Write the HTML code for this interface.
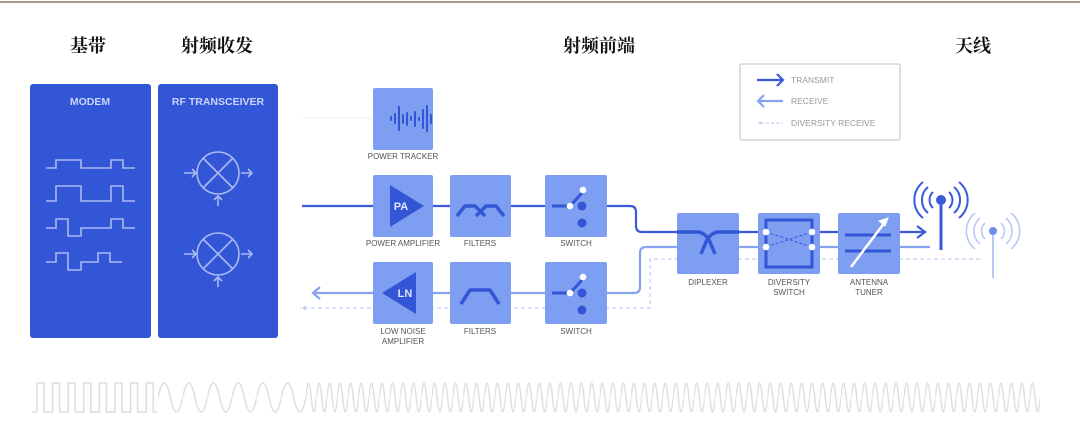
<!DOCTYPE html>
<html><head><meta charset="utf-8"><style>
html,body{margin:0;padding:0;background:#fff;}
body{width:1080px;height:427px;overflow:hidden;position:relative;}
svg{position:absolute;left:0;top:0;}
.t{font-family:"Liberation Serif","Noto Serif CJK SC",serif;font-weight:bold;font-size:18px;fill:#111;}
.l{font-family:"Liberation Sans",sans-serif;font-size:8px;fill:#555;text-anchor:middle;}
.w{font-family:"Liberation Sans",sans-serif;font-size:10.5px;fill:#c9d4ff;text-anchor:middle;font-weight:bold;}
.g{font-family:"Liberation Sans",sans-serif;font-size:8.5px;fill:#999;}
</style></head><body>
<svg width="1080" height="427" viewBox="0 0 1080 427">
<defs>
<pattern id="sq" x="33" y="380" width="15.6" height="36" patternUnits="userSpaceOnUse">
<path d="M0,32 h4 v-29 h7 v29 h4.6" fill="none" stroke="#ddd" stroke-width="1.5"/></pattern>
<pattern id="sl" x="158" y="380" width="24.67" height="36" patternUnits="userSpaceOnUse">
<path d="M0,17.5 q6.17,-29 12.33,0 t12.33,0" fill="none" stroke="#ddd" stroke-width="1.5"/></pattern>
<pattern id="fs" x="306" y="380" width="10.49" height="36" patternUnits="userSpaceOnUse">
<path d="M0,17.5 q2.62,-29 5.245,0 t5.245,0" fill="none" stroke="#ddd" stroke-width="1.4"/></pattern>
</defs>
<line x1="0" y1="2" x2="1080" y2="2" stroke="#a89a86" stroke-width="2"/>
<text class="t" x="70" y="52">基带</text>
<text class="t" x="181" y="52">射频收发</text>
<text class="t" x="563" y="52">射频前端</text>
<text class="t" x="955" y="52">天线</text>

<!-- modem & transceiver -->
<rect x="30" y="84" width="121" height="254" rx="3" fill="#3356d6"/>
<rect x="158" y="84" width="120" height="254" rx="3" fill="#3356d6"/>
<text class="w" x="90" y="105">MODEM</text>
<text class="w" x="218" y="105">RF TRANSCEIVER</text>
<g fill="none" stroke="#aab9f2" stroke-width="1.6">
<path d="M46,168 h10 v-8 h25 v8 h30 v-8 h12 v8 h12"/>
<path d="M46,201 h10 v-15 h25 v15 h30 v-15 h12 v15 h12"/>
<path d="M46,228 h10 v-9 h12 v17 h13 v-8 h30 v-9 h12 v9 h12"/>
<path d="M46,262 h10 v-9 h12 v17 h13 v-8 h17 v-9 h12 v9 h12"/>
<circle cx="218" cy="173" r="21"/><path d="M203,158 l30,30 M233,158 l-30,30"/>
<path d="M184,173 h12 M192,169 l4,4 -4,4 M241,173 h11 M248,169 l4,4 -4,4 M218,206 v-9 M214,200 l4,-4 4,4"/>
<circle cx="218" cy="254" r="21"/><path d="M203,239 l30,30 M233,239 l-30,30"/>
<path d="M184,254 h12 M192,250 l4,4 -4,4 M241,254 h11 M248,250 l4,4 -4,4 M218,287 v-9 M214,281 l4,-4 4,4"/>
</g>

<!-- connectors -->
<line x1="302" y1="118" x2="372" y2="118" stroke="#eee" stroke-width="1"/>
<g fill="none" stroke-width="2.2">
<path d="M302,206 H630 q6,0 6,6 v14 q0,6 6,6 H926" stroke="#3a5ad8"/>
<path d="M917,226 l8,6 -8,6" stroke="#3a5ad8"/>
<path d="M930,247 H646 q-6,0 -6,6 v34 q0,6 -6,6 H314" stroke="#87a2ef"/>
<path d="M320,287 l-7,6 7,6" stroke="#87a2ef"/>
</g>
<g fill="none" stroke="#c3d0f5" stroke-width="1.3" stroke-dasharray="4,3">
<path d="M980,259 H650 v49 H300"/>
</g>
<path d="M306,305 l-4,3 4,3" fill="#c3d0f5"/>

<!-- boxes -->
<g fill="#7e9ef1">
<rect x="373" y="88" width="60" height="62" rx="2"/>
<rect x="373" y="175" width="60" height="62" rx="2"/>
<rect x="450" y="175" width="61" height="62" rx="2"/>
<rect x="545" y="175" width="62" height="62" rx="2"/>
<rect x="373" y="262" width="60" height="62" rx="2"/>
<rect x="450" y="262" width="61" height="62" rx="2"/>
<rect x="545" y="262" width="62" height="62" rx="2"/>
<rect x="677" y="213" width="62" height="61" rx="2"/>
<rect x="758" y="213" width="62" height="61" rx="2"/>
<rect x="838" y="213" width="62" height="61" rx="2"/>
</g>
<!-- power tracker icon -->
<g stroke="#3356d6" stroke-width="2" stroke-linecap="round">
<path d="M391,117v3 M395,114v9 M399,107v23 M403,115v8 M407,113v12 M411,117v3 M415,112v14 M419,118v2 M423,110v18 M427,106v25 M431,115v8"/>
</g>
<!-- PA -->
<path d="M390,185 L424,206 L390,227 Z" fill="#3356d6"/>
<text x="401" y="210" font-family="Liberation Sans" font-weight="bold" font-size="11" fill="#dfe6ff" text-anchor="middle">PA</text>
<path d="M416,272 L382,293 L416,314 Z" fill="#3356d6"/>
<text x="405" y="297" font-family="Liberation Sans" font-weight="bold" font-size="11" fill="#dfe6ff" text-anchor="middle">LN</text>
<!-- filters -->
<g fill="none" stroke="#3356d6" stroke-width="3.5" stroke-linejoin="round">
<path d="M457,216 l8,-10 h10 l10,10 M476,216 l10,-10 h10 l8,10"/>
<path d="M461,304 l9,-14 h20 l9,14"/>
</g>
<!-- switches -->
<g stroke="#3356d6" stroke-width="3" fill="#3356d6">
<path d="M552,206 h15 M582,193 l-11,12"/><circle cx="582" cy="206" r="3"/><circle cx="582" cy="223" r="3"/>
<path d="M552,293 h15 M582,280 l-11,12"/><circle cx="582" cy="293" r="3"/><circle cx="582" cy="310" r="3"/>
</g>
<g fill="#fff"><circle cx="570" cy="206" r="3.3"/><circle cx="583" cy="190" r="3.3"/><circle cx="570" cy="293" r="3.3"/><circle cx="583" cy="277" r="3.3"/></g>
<!-- diplexer -->
<g fill="none" stroke="#3356d6" stroke-width="3.5">
<path d="M677,232 h20 q8,0 13,10 l5,12 M739,232 h-20 q-8,0 -13,10 l-5,12"/>
</g>
<!-- diversity switch -->
<rect x="766" y="220" width="46" height="47" fill="none" stroke="#3356d6" stroke-width="3"/>
<path d="M766,232 L812,247 M766,247 L812,232" stroke="#3356d6" stroke-width="1" stroke-dasharray="3,2"/>
<g fill="#fff"><circle cx="766" cy="232" r="3.3"/><circle cx="812" cy="232" r="3.3"/><circle cx="766" cy="247" r="3.3"/><circle cx="812" cy="247" r="3.3"/></g>
<!-- tuner -->
<path d="M845,235 h46 M845,251 h46" stroke="#3356d6" stroke-width="3"/>
<path d="M851,267 L885,222" stroke="#fff" stroke-width="2.5"/><path d="M888,218 l-9,3 6,5 z" fill="#fff" stroke="#fff"/>
<!-- labels -->
<text class="l" x="403" y="159">POWER TRACKER</text>
<text class="l" x="403" y="246">POWER AMPLIFIER</text>
<text class="l" x="480" y="246">FILTERS</text>
<text class="l" x="576" y="246">SWITCH</text>
<text class="l" x="403" y="334">LOW NOISE</text>
<text class="l" x="403" y="344">AMPLIFIER</text>
<text class="l" x="480" y="334">FILTERS</text>
<text class="l" x="576" y="334">SWITCH</text>
<text class="l" x="708" y="285">DIPLEXER</text>
<text class="l" x="789" y="285">DIVERSITY</text>
<text class="l" x="789" y="295">SWITCH</text>
<text class="l" x="869" y="285">ANTENNA</text>
<text class="l" x="869" y="295">TUNER</text>
<!-- antennas -->
<g fill="none" stroke="#3a5ad8" stroke-width="2">
<line x1="941" y1="200" x2="941" y2="250" stroke-width="3"/>
<circle cx="941" cy="200" r="5" fill="#3a5ad8" stroke="none"/>
<path d="M933,192 a11,11 0 0,0 0,16 M949,192 a11,11 0 0,1 0,16 M928,187 a17,17 0 0,0 0,26 M954,187 a17,17 0 0,1 0,26 M923,182 a23,23 0 0,0 0,36 M959,182 a23,23 0 0,1 0,36"/>
</g>
<g fill="none" stroke="#b9c8f4" stroke-width="1.6">
<line x1="993" y1="231" x2="993" y2="278" stroke-width="2"/>
<circle cx="993" cy="231" r="4" fill="#6e8eea" stroke="none"/>
<path d="M985,223 a11,11 0 0,0 0,16 M1001,223 a11,11 0 0,1 0,16 M980,218 a17,17 0 0,0 0,26 M1006,218 a17,17 0 0,1 0,26 M975,213 a23,23 0 0,0 0,36 M1011,213 a23,23 0 0,1 0,36"/>
</g>
<!-- legend -->
<rect x="740" y="64" width="160" height="76" rx="2" fill="#fff" stroke="#ccc" stroke-width="1.3"/>
<path d="M757,80 h26 M777,74 l6,6 -6,6" fill="none" stroke="#3a5ad8" stroke-width="2.2"/>
<path d="M759,101 h24 M764,95 l-6,6 6,6" fill="none" stroke="#87a2ef" stroke-width="2.2"/>
<path d="M761,123 h22" stroke="#c3d0f5" stroke-width="1.3" stroke-dasharray="3,2"/><path d="M761,121 l-3,2 3,2z" fill="#c3d0f5"/>
<text class="g" x="791" y="83">TRANSMIT</text>
<text class="g" x="791" y="104">RECEIVE</text>
<text class="g" x="791" y="126">DIVERSITY RECEIVE</text>
<!-- bottom wave -->
<rect x="32" y="380" width="125" height="36" fill="url(#sq)"/>
<rect x="158" y="380" width="148" height="36" fill="url(#sl)"/>
<rect x="306" y="380" width="734" height="36" fill="url(#fs)"/>
</svg>
</body></html>
